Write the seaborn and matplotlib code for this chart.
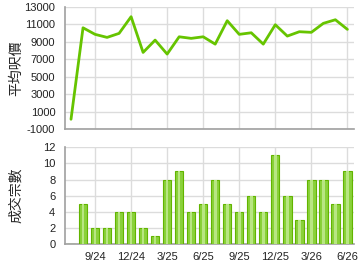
import matplotlib
matplotlib.use("Agg")
import matplotlib.pyplot as plt
import seaborn as sns
import pandas as pd
import numpy as np

months = ["7/24", "8/24", "9/24", "10/24", "11/24", "12/24", "1/25", "2/25", "3/25",
          "4/25", "5/25", "6/25", "7/25", "8/25", "9/25", "10/25", "11/25", "12/25",
          "1/26", "2/26", "3/26", "4/26", "5/26", "6/26"]
avg_price = [150, 10620, 9870, 9520, 9980, 11890, 7800, 9210, 7610, 9590,
             9410, 9590, 8750, 11430, 9870, 10050, 8750, 10970, 9670, 10170,
             10100, 11130, 11540, 10440]
volume = [0, 5, 2, 2, 4, 4, 2, 1, 8, 9, 4, 5, 8, 5, 4, 6, 4, 11, 6, 3, 8, 8, 5, 9]
tick_labels = ["9/24", "12/24", "3/25", "6/25", "9/25", "12/25", "3/26", "6/26"]
price_ticks = [-1000, 1000, 3000, 5000, 7000, 9000, 11000, 13000]
vol_ticks = [0, 2, 4, 6, 8, 10, 12]

sns.set_theme(style="white")
plt.rcParams["font.family"] = ["Liberation Sans", "Noto Sans CJK TC", "DejaVu Sans"]

df = pd.DataFrame({"month": months, "idx": np.arange(len(months)),
                   "price": avg_price, "volume": volume})

fig = plt.figure(figsize=(3.6, 2.7), dpi=100)
L, R = 65 / 360, 354 / 360
ax1 = fig.add_axes([L, 1 - 129.3 / 270, R - L, (129.3 - 7) / 270])
ax2 = fig.add_axes([L, 1 - 244 / 270, R - L, (244 - 147.3) / 270])

grid_c = "#dcdcdc"
spine_c = "#a0a0a0"
tick_pos = [months.index(t) for t in tick_labels]

sns.lineplot(data=df, x="idx", y="price", ax=ax1, color="#66c400", linewidth=2.0)
ax1.set_ylim(-1000, 13000)
ax1.set_yticks(price_ticks)
ax1.set_yticklabels([str(v) for v in price_ticks])

ax2.bar(df["idx"], df["volume"], width=0.7, color="#8ad13a", edgecolor="#62b400",
        linewidth=0.8, zorder=3)
ax2.bar(df["idx"], df["volume"], width=0.22, color="#b8e682", linewidth=0, zorder=4)
ax2.set_ylim(0, 12)
ax2.set_yticks(vol_ticks)

for ax in (ax1, ax2):
    ax.set_xlim(-0.5, 23.55)
    ax.set_xticks(tick_pos)
    ax.grid(True, color=grid_c, linewidth=1.0, zorder=0)
    ax.set_axisbelow(True)
    for s in ("top", "right"):
        ax.spines[s].set_visible(False)
    for s in ("left", "bottom"):
        ax.spines[s].set_color(spine_c)
        ax.spines[s].set_linewidth(1.2)
    ax.tick_params(axis="y", length=0, labelsize=8, pad=7, colors="#222222")
    ax.set_xlabel("")

ax1.tick_params(axis="x", length=0, labelbottom=False)
ax2.set_xticklabels(tick_labels)
ax2.tick_params(axis="x", length=3, width=1, labelsize=8, pad=3,
                colors="#222222")
for t in ax2.xaxis.get_ticklines():
    t.set_color(spine_c)

ax1.set_ylabel("平均呎價", fontsize=10, family=["Noto Sans CJK TC"])
ax2.set_ylabel("成交宗數", fontsize=10, family=["Noto Sans CJK TC"])
ax1.yaxis.set_label_coords(-0.145, 0.5)
ax2.yaxis.set_label_coords(-0.145, 0.5)

fig.savefig("out.png", dpi=100)
